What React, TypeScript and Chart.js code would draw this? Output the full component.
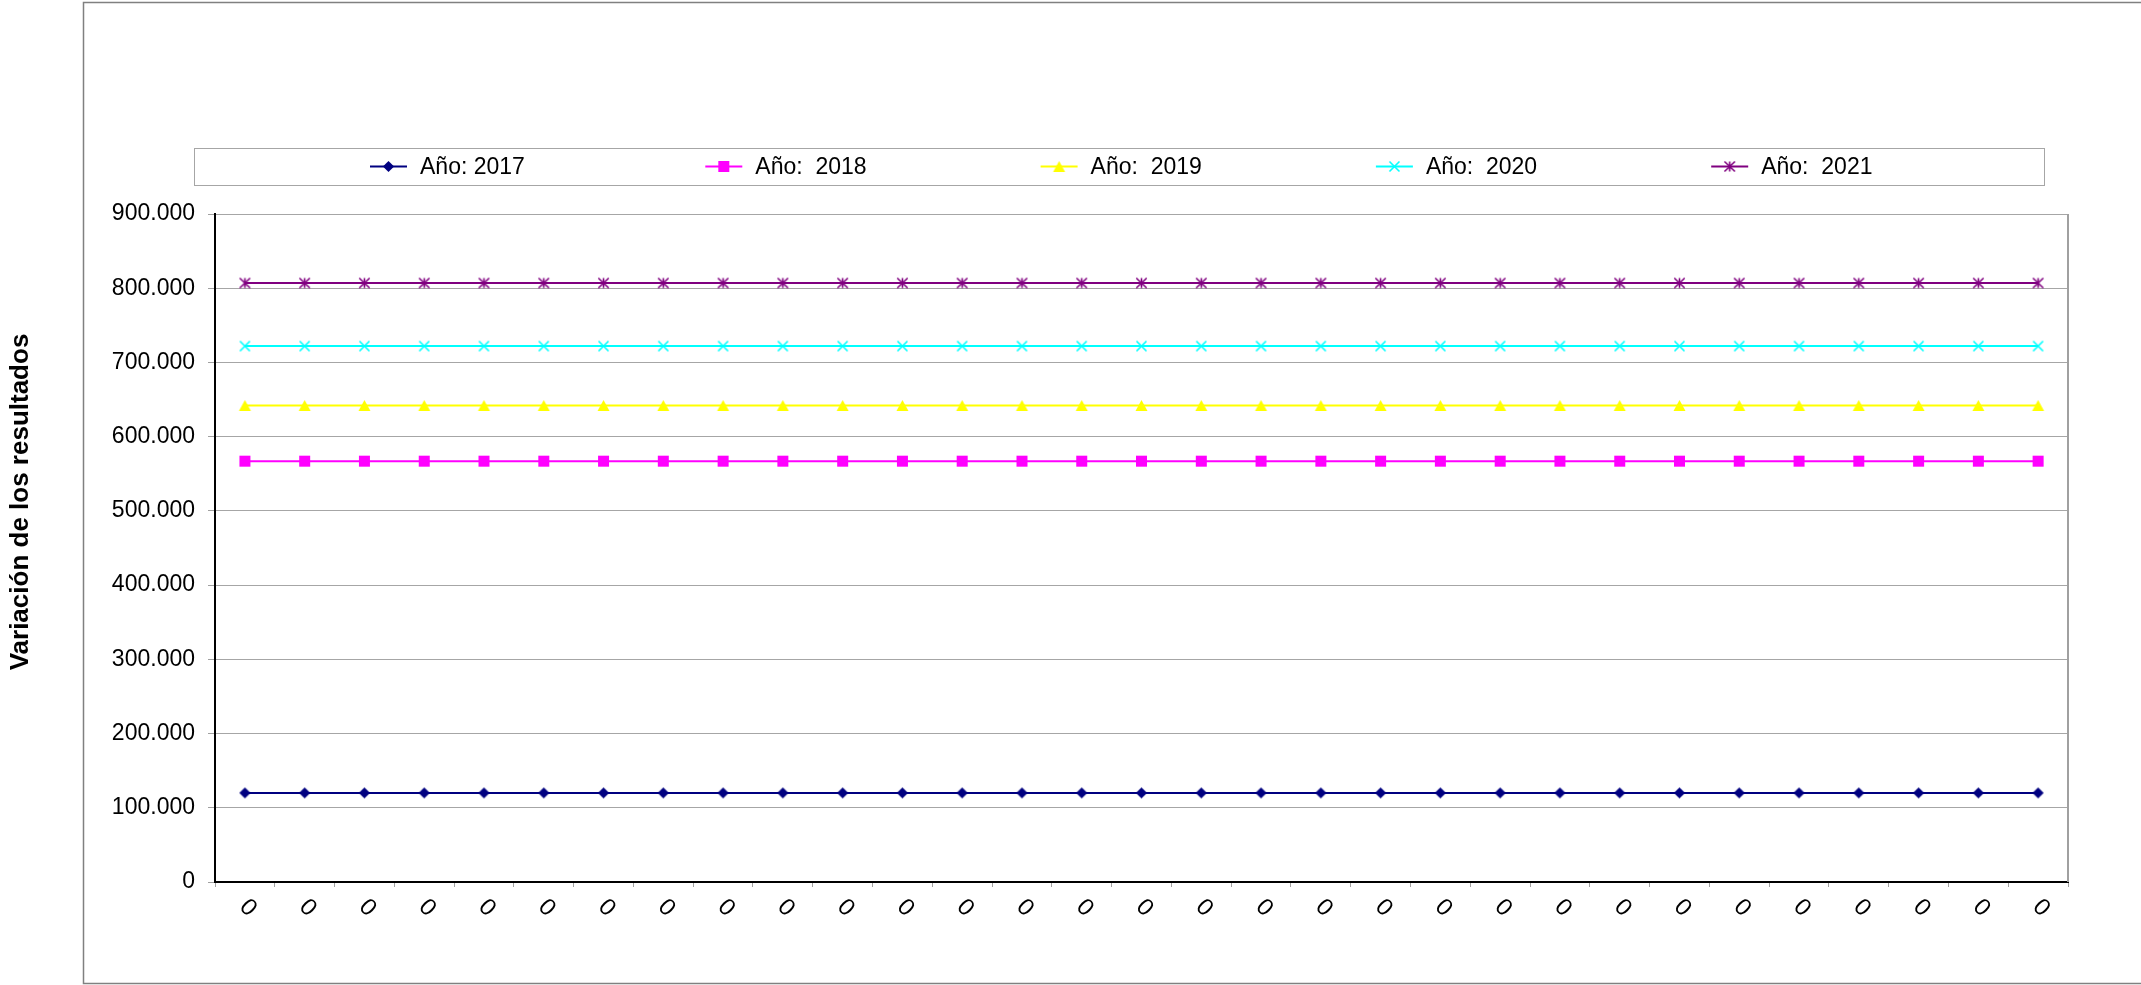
import React, { useEffect, useRef } from "react";
import { Chart, registerables } from "chart.js";

Chart.register(...registerables);

// ---------- data ----------
const categories = [
  "0", "0", "0", "0", "0", "0", "0", "0", "0", "0",
  "0", "0", "0", "0", "0", "0", "0", "0", "0", "0",
  "0", "0", "0", "0", "0", "0", "0", "0", "0", "0",
  "0",
];

const seriesNames = ["Año: 2017", "Año:  2018", "Año:  2019", "Año:  2020", "Año:  2021"];

const values2017 = [
  120000, 120000, 120000, 120000, 120000, 120000, 120000, 120000, 120000, 120000,
  120000, 120000, 120000, 120000, 120000, 120000, 120000, 120000, 120000, 120000,
  120000, 120000, 120000, 120000, 120000, 120000, 120000, 120000, 120000, 120000,
  120000,
];
const values2018 = [
  567000, 567000, 567000, 567000, 567000, 567000, 567000, 567000, 567000, 567000,
  567000, 567000, 567000, 567000, 567000, 567000, 567000, 567000, 567000, 567000,
  567000, 567000, 567000, 567000, 567000, 567000, 567000, 567000, 567000, 567000,
  567000,
];
const values2019 = [
  642000, 642000, 642000, 642000, 642000, 642000, 642000, 642000, 642000, 642000,
  642000, 642000, 642000, 642000, 642000, 642000, 642000, 642000, 642000, 642000,
  642000, 642000, 642000, 642000, 642000, 642000, 642000, 642000, 642000, 642000,
  642000,
];
const values2020 = [
  722000, 722000, 722000, 722000, 722000, 722000, 722000, 722000, 722000, 722000,
  722000, 722000, 722000, 722000, 722000, 722000, 722000, 722000, 722000, 722000,
  722000, 722000, 722000, 722000, 722000, 722000, 722000, 722000, 722000, 722000,
  722000,
];
const values2021 = [
  807000, 807000, 807000, 807000, 807000, 807000, 807000, 807000, 807000, 807000,
  807000, 807000, 807000, 807000, 807000, 807000, 807000, 807000, 807000, 807000,
  807000, 807000, 807000, 807000, 807000, 807000, 807000, 807000, 807000, 807000,
  807000,
];

const yAxisTitle = "Variación de los resultados";
const yMin = 0;
const yMax = 900000;
const yStep = 100000;

// ---------- styles ----------
const FONT = "'Liberation Sans', Arial, Helvetica, sans-serif";
const seriesStyles = [
  { color: "#000080", marker: "diamond" },
  { color: "#FF00FF", marker: "square" },
  { color: "#FFFF00", marker: "triangle" },
  { color: "#00FFFF", marker: "x" },
  { color: "#800080", marker: "star" },
];

function fmtThousands(v: number): string {
  return String(Math.round(v)).replace(/\B(?=(\d{3})+(?!\d))/g, ".");
}

function makeMarker(kind: string, color: string): HTMLCanvasElement {
  const c = document.createElement("canvas");
  c.width = 17;
  c.height = 17;
  const ctx = c.getContext("2d") as CanvasRenderingContext2D;
  const m = 8.5;
  ctx.fillStyle = color;
  ctx.strokeStyle = color;
  ctx.lineWidth = 1.6;
  ctx.lineCap = "butt";
  switch (kind) {
    case "diamond":
      ctx.beginPath();
      ctx.moveTo(m, m - 5.6);
      ctx.lineTo(m + 5.6, m);
      ctx.lineTo(m, m + 5.6);
      ctx.lineTo(m - 5.6, m);
      ctx.closePath();
      ctx.fill();
      break;
    case "square":
      ctx.fillRect(m - 5.5, m - 5.5, 11, 11);
      break;
    case "triangle":
      ctx.beginPath();
      ctx.moveTo(m, m - 5.5);
      ctx.lineTo(m + 6, m + 5.5);
      ctx.lineTo(m - 6, m + 5.5);
      ctx.closePath();
      ctx.fill();
      break;
    case "x":
      ctx.beginPath();
      ctx.moveTo(m - 5, m - 5);
      ctx.lineTo(m + 5, m + 5);
      ctx.moveTo(m + 5, m - 5);
      ctx.lineTo(m - 5, m + 5);
      ctx.stroke();
      break;
    case "star":
      ctx.beginPath();
      ctx.moveTo(m - 5.2, m - 5);
      ctx.lineTo(m + 5.2, m + 5);
      ctx.moveTo(m + 5.2, m - 5);
      ctx.lineTo(m - 5.2, m + 5);
      ctx.moveTo(m, m - 5);
      ctx.lineTo(m, m + 5);
      ctx.stroke();
      break;
  }
  return c;
}

export default function App() {
  const ref = useRef<HTMLCanvasElement>(null);

  useEffect(() => {
    const canvas = ref.current;
    if (!canvas) return;
    const seriesValues = [values2017, values2018, values2019, values2020, values2021];
    const markers = seriesStyles.map((s) => makeMarker(s.marker, s.color));

    const decorPlugin = {
      id: "decor",
      beforeDraw(chart: any) {
        const ctx = chart.ctx as CanvasRenderingContext2D;
        ctx.save();
        ctx.fillStyle = "#ffffff";
        ctx.fillRect(0, 0, chart.width, chart.height);
        ctx.strokeStyle = "#808080";
        ctx.lineWidth = 1.5;
        ctx.beginPath();
        ctx.moveTo(chart.width + 2, 2.5);
        ctx.lineTo(83.5, 2.5);
        ctx.lineTo(83.5, 983.5);
        ctx.lineTo(chart.width + 2, 983.5);
        ctx.stroke();
        ctx.restore();
      },
      afterDraw(chart: any) {
        const ctx = chart.ctx as CanvasRenderingContext2D;
        const area = chart.chartArea;
        ctx.save();
        // right plot border
        ctx.strokeStyle = "#a0a0a0";
        ctx.lineWidth = 2;
        ctx.beginPath();
        ctx.moveTo(area.right, area.top);
        ctx.lineTo(area.right, area.bottom);
        ctx.stroke();

        // legend box
        ctx.strokeStyle = "#a6a6a6";
        ctx.lineWidth = 1;
        ctx.strokeRect(194.5, 148.5, 1850, 37);
        const ly = 166.5;
        seriesNames.forEach((name, i) => {
          const lx = 370 + i * 335.3;
          ctx.strokeStyle = seriesStyles[i].color;
          ctx.lineWidth = 2;
          ctx.beginPath();
          ctx.moveTo(lx, ly);
          ctx.lineTo(lx + 37, ly);
          ctx.stroke();
          ctx.drawImage(markers[i], lx + 18.5 - 8.5, ly - 8.5);
          ctx.fillStyle = "#000000";
          ctx.font = `23px ${FONT}`;
          ctx.textAlign = "left";
          ctx.textBaseline = "middle";
          ctx.fillText(name, lx + 50, ly + 1);
        });

        // y axis title
        ctx.save();
        ctx.translate(21, 502);
        ctx.rotate(-Math.PI / 2);
        ctx.font = `bold 26px ${FONT}`;
        ctx.fillStyle = "#000000";
        ctx.textAlign = "center";
        ctx.textBaseline = "middle";
        ctx.fillText(yAxisTitle, 0, 0);
        ctx.restore();

        // x tick labels (rotated)
        const xs = chart.scales.x;
        ctx.font = `24px ${FONT}`;
        ctx.fillStyle = "#000000";
        ctx.textAlign = "center";
        ctx.textBaseline = "middle";
        categories.forEach((lab, i) => {
          const x = xs.getPixelForValue(i) + 3;
          const y = area.bottom + 26;
          ctx.save();
          ctx.translate(x, y);
          ctx.rotate(Math.PI / 4);
          ctx.fillText(lab, 0, 0);
          ctx.restore();
        });
        ctx.restore();
      },
    };

    const chart = new Chart(canvas, {
      type: "line",
      data: {
        labels: categories,
        datasets: seriesValues.map((vals, i) => ({
          label: seriesNames[i],
          data: vals,
          borderColor: seriesStyles[i].color,
          backgroundColor: seriesStyles[i].color,
          borderWidth: 2,
          pointStyle: markers[i] as any,
          pointRadius: 5,
          fill: false,
          tension: 0,
        })),
      },
      options: {
        animation: false,
        responsive: false,
        devicePixelRatio: 1,
        events: [],
        layout: { padding: { top: 214, right: 73, bottom: 0, left: 0 } },
        plugins: {
          legend: { display: false },
          tooltip: { enabled: false },
          title: { display: false },
        },
        scales: {
          x: {
            type: "category",
            offset: true,
            grid: {
              offset: true,
              drawOnChartArea: false,
              drawTicks: true,
              tickLength: 5,
              tickColor: "#a0a0a0",
              tickWidth: 1,
            },
            border: { display: true, color: "#000000", width: 2 },
            ticks: { display: false },
            afterFit: (scale: any) => {
              scale.height = 103;
            },
          },
          y: {
            min: yMin,
            max: yMax,
            grid: {
              color: "#a6a6a6",
              lineWidth: 1,
              drawTicks: true,
              tickLength: 7,
              tickColor: "#a0a0a0",
            },
            border: { display: true, color: "#000000", width: 2 },
            ticks: {
              stepSize: yStep,
              padding: 13,
              color: "#000000",
              font: { family: FONT, size: 23 },
              callback: (v: any) => fmtThousands(Number(v)),
            },
            afterFit: (scale: any) => {
              scale.width = 215;
            },
          },
        },
      },
      plugins: [decorPlugin],
    } as any);

    return () => chart.destroy();
  }, []);

  return (
    <div style={{ position: "absolute", left: 0, top: 0, width: 2141, height: 985 }}>
      <canvas
        ref={ref}
        width={2141}
        height={985}
        style={{ display: "block", width: 2141, height: 985 }}
      />
    </div>
  );
}
